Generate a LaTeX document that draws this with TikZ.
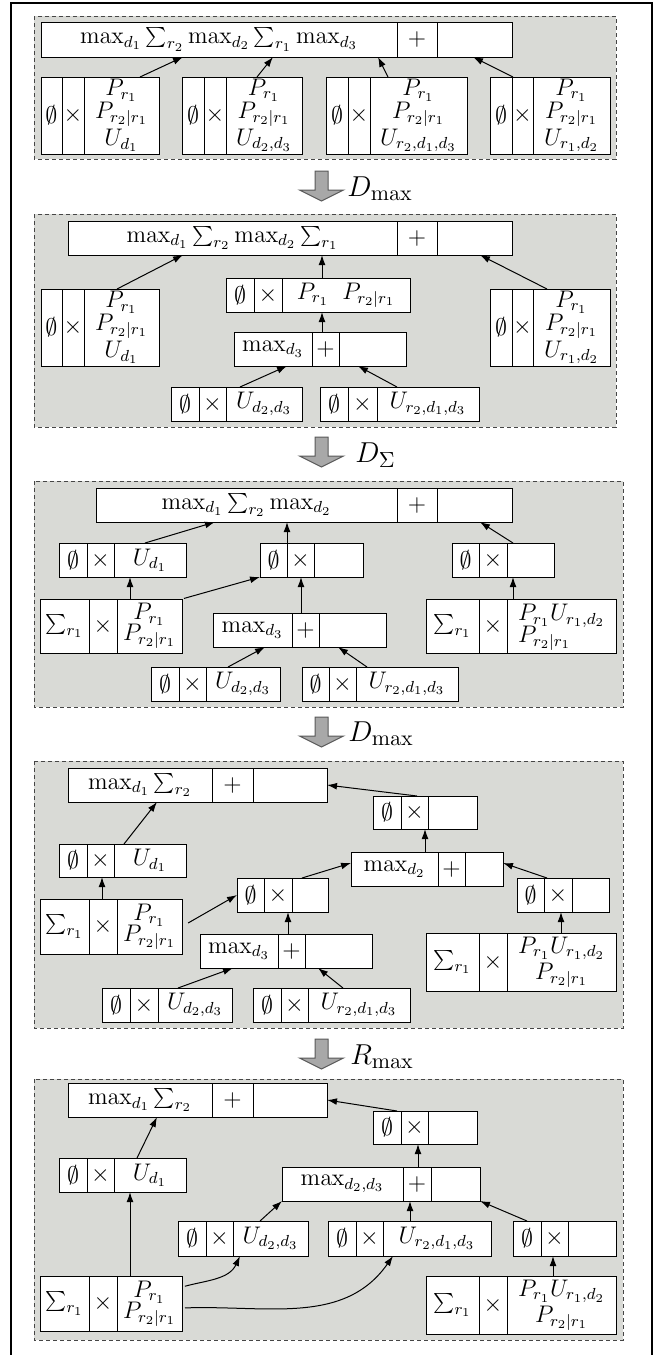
\documentclass[tikz,border=0pt]{standalone}
\usetikzlibrary{arrows.meta}
\definecolor{panelgray}{RGB}{217,218,214}
\definecolor{dashgray}{RGB}{70,70,70}
\definecolor{blockgray}{RGB}{168,168,168}
\tikzset{
  cellbox/.style={draw=black, fill=white, line width=0.5pt, inner sep=0pt, outer sep=0pt, align=center, font=\large},
  panel/.style={fill=panelgray, draw=dashgray, dash pattern=on 2pt off 1.5pt, line width=0.5pt},
  conn/.style={-{Latex[length=5pt,width=3.4pt]}, line width=0.5pt, draw=black},
  blockarrow/.style={fill=blockgray, draw=black!65, line width=0.5pt},
  steplabel/.style={anchor=base west, font=\fontsize{15.5}{18}\selectfont, inner sep=0pt},
  frameline/.style={line width=1pt, draw=black},
}
\newcommand\cellnode[6]{%
  \pgfmathsetmacro\cellw{(#4-#2)*0.5}%
  \pgfmathsetmacro\cellh{(#5-#3)*0.5}%
  \node[cellbox, minimum width=\cellw pt, minimum height=\cellh pt] (#1) at ({(#2+#4)/2},{(#3+#5)/2}) {#6};%
}
\def\splitx#1/#2/#3/#4\relax{\def\xa{#1}\def\xb{#2}\def\xc{#3}\def\xd{#4}}
\def\splity#1/#2\relax{\def\ya{#1}\def\yb{#2}}
\newcommand\rec[6]{%
  \splitx#2\relax\splity#3\relax
  \cellnode{#1-a}{\xa}{\ya}{\xb}{\yb}{#4}%
  \cellnode{#1-b}{\xb}{\ya}{\xc}{\yb}{#5}%
  \cellnode{#1-c}{\xc}{\ya}{\xd}{\yb}{#6}%
}
\newcommand\blockarr[1]{%
  \draw[blockarrow] (315,#1) -- (328,#1) -- (328,#1+19) -- (343.5,#1+19) -- (321.5,#1+30) -- (299.5,#1+19) -- (315,#1+19) -- cycle;}
\newcommand\es{$\emptyset$}
\newcommand\tm{$\times$}
\newcommand\threeP[1]{$P_{r_1}$\\[-2.5pt]$P_{r_2|r_1}$\\[-0.5pt]$#1$}
\begin{document}
\begin{tikzpicture}[x=0.5pt,y=-0.5pt]
\useasboundingbox (0,0) rectangle (667,1355);
\draw[frameline] (11,1355) -- (11,3) -- (652,3) -- (652,1355);

% ---------------- Panel 1
\draw[panel] (34,16) rectangle (616,159);
\rec{p1T}{41/397/437/512}{22/57}{$\max_{d_1}\sum_{r_2}\max_{d_2}\sum_{r_1}\max_{d_3}$}{$+$}{}
\rec{p1A}{41/62/84/159}{77/154}{\es}{\tm}{\threeP{U_{d_1}}}
\rec{p1B}{182/204/226/302}{77/154}{\es}{\tm}{\threeP{U_{d_2,d_3}}}
\rec{p1C}{326/348/370/467}{77/154}{\es}{\tm}{\threeP{U_{r_2,d_1,d_3}}}
\rec{p1D}{490/512/533/610}{77/154}{\es}{\tm}{\threeP{U_{r_1,d_2}}}
\draw[conn] (140,0 |- p1A-c.north) -- (183,0 |- p1T-a.south);
\draw[conn] (257,0 |- p1B-c.north) -- (273,0 |- p1T-a.south);
\draw[conn] (388,0 |- p1C-c.north) -- (378,0 |- p1T-a.south);
\draw[conn] (513,0 |- p1D-c.north) -- (473,0 |- p1T-c.south);

\blockarr{171}
\node[steplabel] (lab1) at (347,196) {$D_{\max}$};

% ---------------- Panel 2
\draw[panel] (34,214) rectangle (616,427);
\rec{p2T}{68/397/437/512}{221/255}{$\max_{d_1}\sum_{r_2}\max_{d_2}\sum_{r_1}$}{$+$}{}
\rec{p2L}{41/62/84/159}{289/366}{\es}{\tm}{\threeP{U_{d_1}}}
\rec{p2M}{226/254/282/410}{278/312}{\es}{\tm}{$P_{r_1}\;\;P_{r_2|r_1}$}
\rec{p2D}{234/312/339/406}{332/366}{$\max_{d_3}$}{$+$}{}
\rec{p2B1}{171/199/226/302}{387/421}{\es}{\tm}{$U_{d_2,d_3}$}
\rec{p2B2}{320/348/377/479}{387/421}{\es}{\tm}{$U_{r_2,d_1,d_3}$}
\rec{p2R}{490/512/533/610}{289/366}{\es}{\tm}{\threeP{U_{r_1,d_2}}}
\draw[conn] (117,0 |- p2L-c.north) -- (183,0 |- p2T-a.south);
\draw[conn] (322,0 |- p2M-c.north) -- (322,0 |- p2T-a.south);
\draw[conn] (322,0 |- p2D-b.north) -- (322,0 |- p2M-c.south);
\draw[conn] (240,0 |- p2B1-c.north) -- (287,0 |- p2D-a.south);
\draw[conn] (397,0 |- p2B2-c.north) -- (358,0 |- p2D-c.south);
\draw[conn] (547,0 |- p2R-c.north) -- (480,0 |- p2T-c.south);

\blockarr{437}
\node[steplabel] (lab2) at (355,462) {$D_{\Sigma}$};

% ---------------- Panel 3
\draw[panel] (34,481) rectangle (623,707);
\rec{p3T}{96/397/437/512}{488/522}{$\max_{d_1}\sum_{r_2}\max_{d_2}$}{$+$}{}
\rec{p3U}{59/87/114/186}{543/577}{\es}{\tm}{$U_{d_1}$}
\rec{p3M}{260/287/314/363}{543/577}{\es}{\tm}{}
\rec{p3R}{452/479/507/554}{543/577}{\es}{\tm}{}
\rec{p3S}{40/89/117/182}{599/653}{$\sum_{r_1}$}{\tm}{$P_{r_1}$\\[-3.5pt]$P_{r_2|r_1}$}
\rec{p3D}{213/292/319/386}{613/647}{$\max_{d_3}$}{$+$}{}
\rec{p3S2}{426/479/507/616}{599/653}{$\sum_{r_1}$}{\tm}{\begin{tabular}{@{}l@{}}$P_{r_1}U_{r_1,d_2}$\\[-3pt]$P_{r_2|r_1}$\end{tabular}}
\rec{p3B1}{151/179/206/280}{667/701}{\es}{\tm}{$U_{d_2,d_3}$}
\rec{p3B2}{302/329/356/458}{667/701}{\es}{\tm}{$U_{r_2,d_1,d_3}$}
\draw[conn] (145,0 |- p3U-c.north) -- (215,0 |- p3T-a.south);
\draw[conn] (287,0 |- p3M-b.north) -- (287,0 |- p3T-a.south);
\draw[conn] (513,0 |- p3R-c.north) -- (480,0 |- p3T-c.south);
\draw[conn] (130,0 |- p3S-c.north) -- (130,0 |- p3U-c.south);
\draw[conn, shorten <=1pt] (p3S-c.north east) -- (p3M-a.south west);
\draw[conn] (301,0 |- p3D-b.north) -- (301,0 |- p3M-b.south);
\draw[conn] (228,0 |- p3B1-c.north) -- (265,0 |- p3D-a.south);
\draw[conn] (367,0 |- p3B2-c.north) -- (338,0 |- p3D-c.south);
\draw[conn] (513,0 |- p3S2-c.north) -- (513,0 |- p3R-c.south);

\blockarr{717}
\node[steplabel] (lab3) at (348,741) {$D_{\max}$};

% ---------------- Panel 4
\draw[panel] (34,761) rectangle (623,1028);
\rec{p4T}{68/212/253/327}{768/802}{$\max_{d_1}\sum_{r_2}$}{$+$}{}
\rec{p4X}{373/401/428/477}{796/829}{\es}{\tm}{}
\rec{p4D2}{351/438/465/503}{852/886}{$\max_{d_2}$}{$+$}{}
\rec{p4U}{59/87/114/186}{844/877}{\es}{\tm}{$U_{d_1}$}
\rec{p4M}{237/264/292/328}{878/912}{\es}{\tm}{}
\rec{p4R}{517/544/572/609}{878/912}{\es}{\tm}{}
\rec{p4S}{40/89/117/182}{899/954}{$\sum_{r_1}$}{\tm}{$P_{r_1}$\\[-3.5pt]$P_{r_2|r_1}$}
\rec{p4D3}{200/278/305/372}{934/968}{$\max_{d_3}$}{$+$}{}
\rec{p4S2}{426/479/507/616}{933/991}{$\sum_{r_1}$}{\tm}{$P_{r_1}U_{r_1,d_2}$\\[-1pt]$P_{r_2|r_1}$}
\rec{p4B1}{102/130/158/232}{988/1022}{\es}{\tm}{$U_{d_2,d_3}$}
\rec{p4B2}{253/281/308/410}{988/1022}{\es}{\tm}{$U_{r_2,d_1,d_3}$}
\draw[conn] (124,0 |- p4U-c.north) -- (157,0 |- p4T-a.south);
\draw[conn] (102,0 |- p4S-b.north) -- (102,0 |- p4U-b.south);
\draw[conn, shorten <=3.5pt] (p4S-c.east) -- (p4M-a.west);
\draw[conn] (302,0 |- p4M-c.north) -- (p4D2-a.west |- 0,863);
\draw[conn] (288,0 |- p4D3-b.north) -- (288,0 |- p4M-b.south);
\draw[conn] (417,0 |- p4X-c.north) -- (p4T-c.east);
\draw[conn] (425,0 |- p4D2-a.north) -- (425,0 |- p4X-b.south);
\draw[conn] (547,0 |- p4R-b.north) -- (p4D2-c.east |- 0,863);
\draw[conn] (178,0 |- p4B1-c.north) -- (233,0 |- p4D3-a.south);
\draw[conn] (343,0 |- p4B2-c.north) -- (318,0 |- p4D3-c.south);
\draw[conn] (561,0 |- p4S2-c.north) -- (561,0 |- p4R-c.south);

\blockarr{1039}
\node[steplabel] (lab4) at (350,1064) {$R_{\max}$};

% ---------------- Panel 5
\draw[panel] (34,1079) rectangle (623,1340);
\rec{p5T}{68/212/253/327}{1083/1117}{$\max_{d_1}\sum_{r_2}$}{$+$}{}
\rec{p5X}{373/401/428/477}{1111/1144}{\es}{\tm}{}
\rec{p5U}{59/87/114/186}{1158/1192}{\es}{\tm}{$U_{d_1}$}
\rec{p5D}{282/403/431/480}{1167/1201}{$\max_{d_2,d_3}$}{$+$}{}
\rec{p5B1}{178/206/233/308}{1221/1256}{\es}{\tm}{$U_{d_2,d_3}$}
\rec{p5B2}{328/356/383/491}{1221/1256}{\es}{\tm}{$U_{r_2,d_1,d_3}$}
\rec{p5R}{513/541/568/616}{1221/1256}{\es}{\tm}{}
\rec{p5S}{40/89/117/182}{1276/1331}{$\sum_{r_1}$}{\tm}{$P_{r_1}$\\[-3.5pt]$P_{r_2|r_1}$}
\rec{p5S2}{426/479/507/616}{1276/1334}{$\sum_{r_1}$}{\tm}{$P_{r_1}U_{r_1,d_2}$\\[-1pt]$P_{r_2|r_1}$}
\draw[conn] (137,0 |- p5U-c.north) -- (157,0 |- p5T-a.south);
\draw[conn] (130,0 |- p5S-c.north) -- (130,0 |- p5U-c.south);
\draw[conn, shorten <=1.5pt] (p5S-c.east |- 0,1287) to[out=15,in=-115] (240,0 |- p5B1-c.south);
\draw[conn, shorten <=1.5pt] (p5S-c.east |- 0,1308) to[out=2,in=-125] (393,0 |- p5B2-c.south);
\draw[conn] (260,0 |- p5B1-c.north) -- (p5D-a.south west);
\draw[conn] (410,0 |- p5B2-c.north) -- (410,0 |- p5D-b.south);
\draw[conn] (527,0 |- p5R-a.north) -- (p5D-c.south east);
\draw[conn] (418,0 |- p5D-b.north) -- (418,0 |- p5X-b.south);
\draw[conn] (397,0 |- p5X-a.north) -- (p5T-c.east);
\draw[conn] (553,0 |- p5S2-c.north) -- (553,0 |- p5R-c.south);
\end{tikzpicture}
\end{document}
